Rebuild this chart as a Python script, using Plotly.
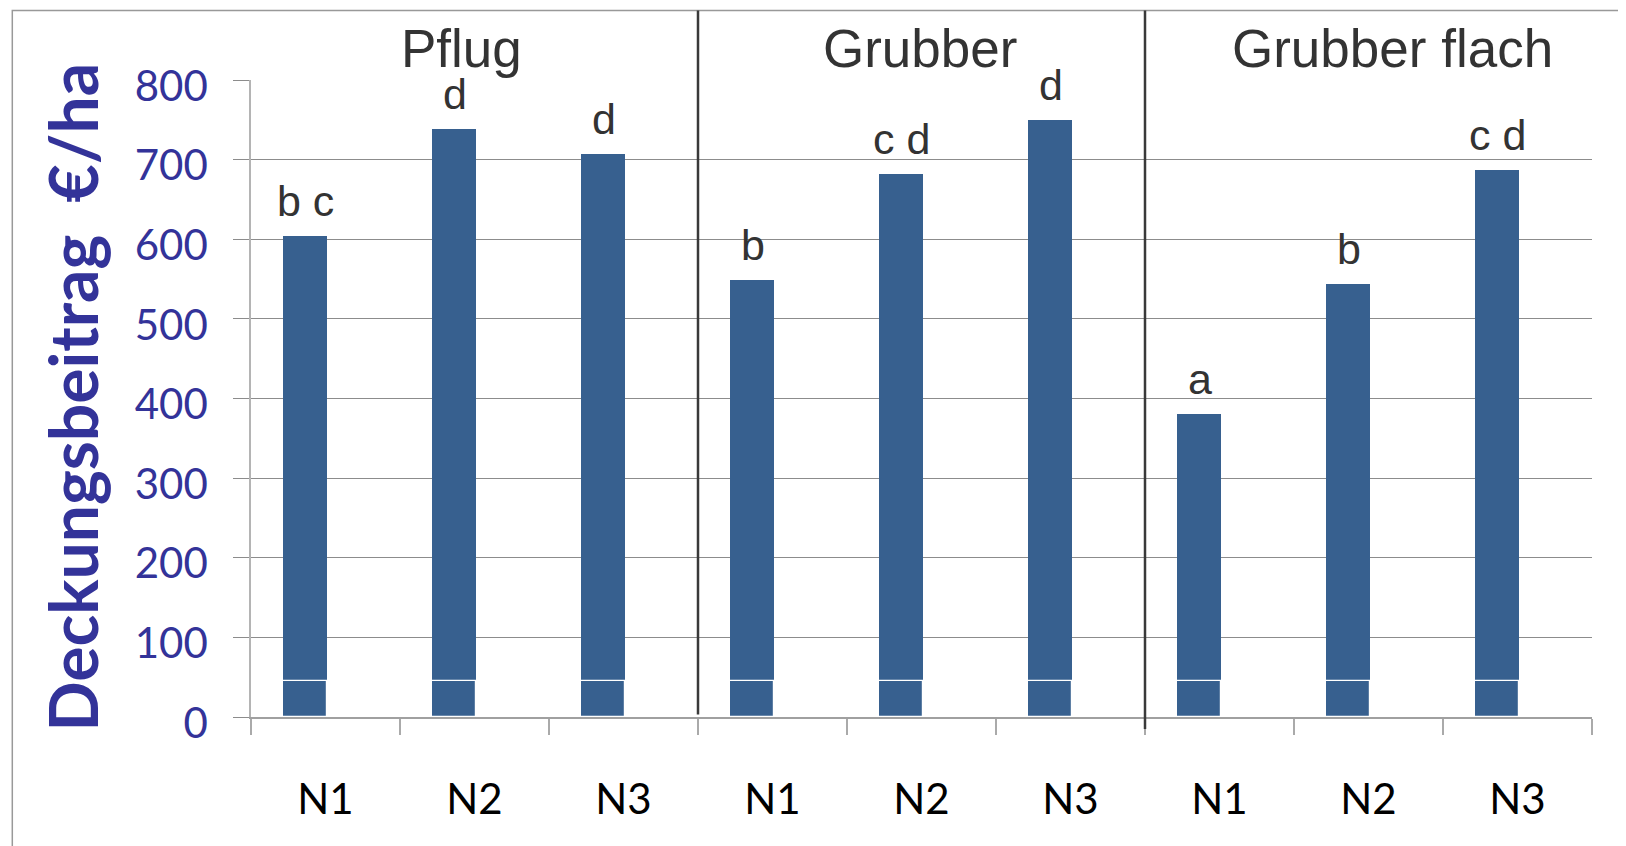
import plotly.graph_objects as go

# Bodenbearbeitung (Gruppen) und N-Stufen
groups = ["Pflug", "Grubber", "Grubber flach"]
levels = ["N1", "N2", "N3"]

# Deckungsbeitrag in €/ha
deckungsbeitrag = [604, 738, 707, 549, 682, 750, 380, 544, 687]
sockel = [45, 45, 45, 45, 45, 45, 45, 45, 45]
letters = ["b c", "d", "d", "b", "c d", "d", "a", "b", "c d"]

categories = [f"{g} {n}" for g in groups for n in levels]
tick_labels = [n for g in groups for n in levels]

BAR_COLOR = "#37608f"
BLUE = "#333399"
GRID = "#8c8c8c"

fig = go.Figure()

# Gesamtbalken
fig.add_trace(go.Bar(
    x=categories,
    y=deckungsbeitrag,
    width=0.295,
    offset=-0.282,
    marker=dict(color=BAR_COLOR, line=dict(width=0)),
    showlegend=False,
    hoverinfo="skip",
))

# unterer Abschnitt mit weisser Trennlinie
fig.add_trace(go.Bar(
    x=categories,
    y=sockel,
    width=0.295,
    offset=-0.282,
    marker=dict(color=BAR_COLOR, line=dict(color="white", width=1.2)),
    showlegend=False,
    hoverinfo="skip",
))

# Buchstaben (Signifikanzgruppen)
for cat, val, txt in zip(categories, deckungsbeitrag, letters):
    fig.add_annotation(
        x=cat, y=val, text=txt, showarrow=False,
        xref="x", yref="y", xanchor="center", yanchor="bottom",
        xshift=-20, yshift=9,
        font=dict(family="Liberation Sans", size=43, color="#333333"),
    )

# Gruppenüberschriften
for xpos, name in zip([0.91, 3.99, 7.16], groups):
    fig.add_annotation(
        x=xpos, y=1.05, text=name, showarrow=False,
        xref="x", yref="paper", xanchor="center", yanchor="middle",
        font=dict(family="Liberation Sans", size=53, color="#333333"),
    )

# Y-Achsentitel
fig.add_annotation(
    x=-0.133, y=0.5025, text="Deckungsbeitrag  €/ha", textangle=-90,
    showarrow=False, xref="paper", yref="paper",
    xanchor="center", yanchor="middle",
    font=dict(family="Lato", size=66, color=BLUE, weight="bold"),
)

# Trennlinien zwischen den Gruppen
fig.add_shape(type="line", xref="x", yref="paper", x0=2.5, x1=2.5,
              y0=0.004, y1=1.109, line=dict(color="#3a3a3a", width=2.5))
fig.add_shape(type="line", xref="x", yref="paper", x0=5.5, x1=5.5,
              y0=-0.019, y1=1.109, line=dict(color="#3a3a3a", width=2.5))

# Rahmen
fig.add_shape(type="rect", xref="paper", yref="paper",
              x0=-0.178, x1=1.05, y0=-0.3, y1=1.109,
              line=dict(color="#999999", width=1.5), layer="below")

fig.update_layout(
    barmode="overlay",
    width=1626,
    height=846,
    margin=dict(l=243, r=42, t=72, b=137),
    plot_bgcolor="white",
    paper_bgcolor="white",
    bargap=0,
)

fig.update_xaxes(
    type="category",
    tickvals=categories,
    ticktext=tick_labels,
    tickson="boundaries",
    ticks="outside",
    ticklen=16,
    tickcolor="#aaaaaa",
    tickwidth=1.5,
    showline=True,
    linecolor="#a0a0a0",
    linewidth=1.5,
    showgrid=False,
    tickfont=dict(family="Lato", size=42, color="black"),
    ticklabelstandoff=45,
    range=[-0.5, 8.5],
)

fig.update_yaxes(
    range=[0, 800],
    dtick=100,
    showgrid=True,
    gridcolor=GRID,
    gridwidth=1,
    ticks="outside",
    ticklen=16,
    tickcolor=GRID,
    showline=True,
    linecolor="#b4b4b4",
    linewidth=1.5,
    zeroline=False,
    tickfont=dict(family="Lato", size=42, color=BLUE),
    ticklabelstandoff=17,
    ticklabelshift=6,
)

fig.write_html("out.html")
